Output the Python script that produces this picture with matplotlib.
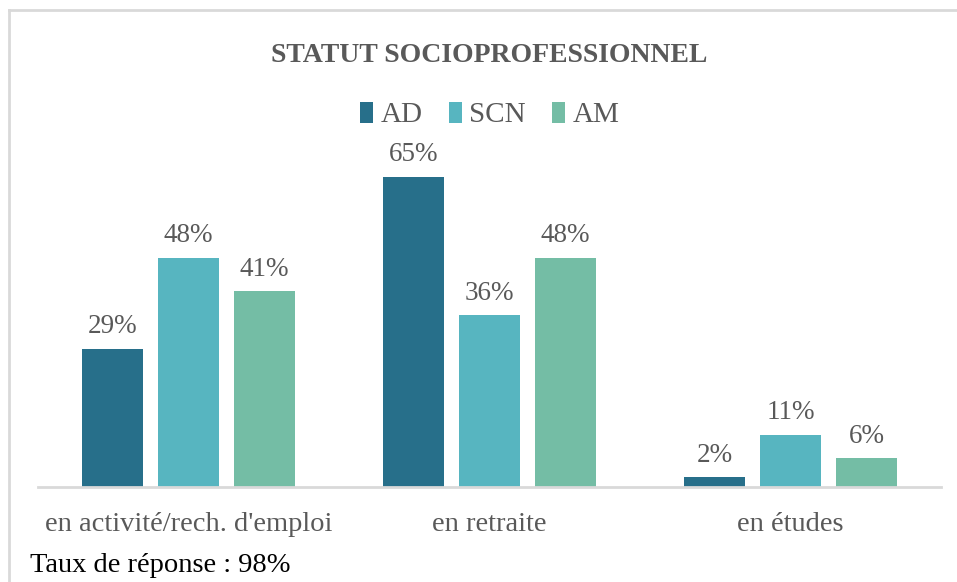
import matplotlib
matplotlib.use("Agg")
import matplotlib.pyplot as plt
from matplotlib.lines import Line2D
import numpy as np

categories = ["en activité/rech. d'emploi", "en retraite", "en études"]
series_names = ["AD", "SCN", "AM"]
ad_values = [29, 65, 2]
scn_values = [48, 36, 11]
am_values = [41, 48, 6]

TITLE = "STATUT SOCIOPROFESSIONNEL"
FOOTNOTE = "Taux de réponse : 98%"

COLORS = ["#276F8A", "#57B5C0", "#74BDA5"]
TEXT_GRAY = "#595959"
FONT = ["Liberation Serif", "DejaVu Serif"]

plt.rcParams["font.family"] = FONT

W, H = 957, 582
fig = plt.figure(figsize=(W / 100, H / 100), dpi=100)

# plot area in pixels: x 38..941, baseline at y=487
left, right = 38 / W, 941 / W
bottom = (H - 487) / H
ymax = 70
px_per_unit = 4.77
top = (H - (487 - ymax * px_per_unit)) / H
ax = fig.add_axes([left, bottom, right - left, top - bottom])

x = np.arange(len(categories))
width = 0.2
offset = 0.2525
for i, (name, vals) in enumerate(zip(series_names, [ad_values, scn_values, am_values])):
    pos = x + (i - 1) * offset
    bars = ax.bar(pos, vals, width, color=COLORS[i], label=name, zorder=2)
    for b, v in zip(bars, vals):
        ax.text(b.get_x() + b.get_width() / 2, v + 2.0, f"{v}%",
                ha="center", va="bottom", fontsize=19.5, color=TEXT_GRAY)

ax.set_xlim(-0.5, 2.5)
ax.set_ylim(0, ymax)
for s in ["top", "right", "left"]:
    ax.spines[s].set_visible(False)
ax.spines["bottom"].set_color("#D9D9D9")
ax.spines["bottom"].set_linewidth(2)
ax.set_yticks([])
ax.set_xticks(x)
ax.set_xticklabels(categories, fontsize=20.5, color=TEXT_GRAY)
ax.tick_params(axis="x", length=0, pad=18)

fig.text((left + right) / 2, (H - 55) / H, TITLE, ha="center", va="center",
         fontsize=20, fontweight="bold", color=TEXT_GRAY)

leg = fig.legend(loc="center", bbox_to_anchor=((left + right) / 2, (H - 115) / H),
                 ncol=3, frameon=False, fontsize=21, handlelength=0.45, handleheight=0.75,
                 handletextpad=0.25, columnspacing=0.9, labelcolor=TEXT_GRAY)

fig.text(30 / W, (H - 565) / H, FOOTNOTE, ha="left", va="center", fontsize=20.5, color="black")

# outer frame (top and left edges visible)
fig.add_artist(Line2D([9 / W, 9 / W], [0, (H - 10) / H], transform=fig.transFigure,
                      color="#D9D9D9", linewidth=2))
fig.add_artist(Line2D([9 / W, 1], [(H - 10) / H, (H - 10) / H], transform=fig.transFigure,
                      color="#D9D9D9", linewidth=2))

fig.savefig("out.png", dpi=100)
